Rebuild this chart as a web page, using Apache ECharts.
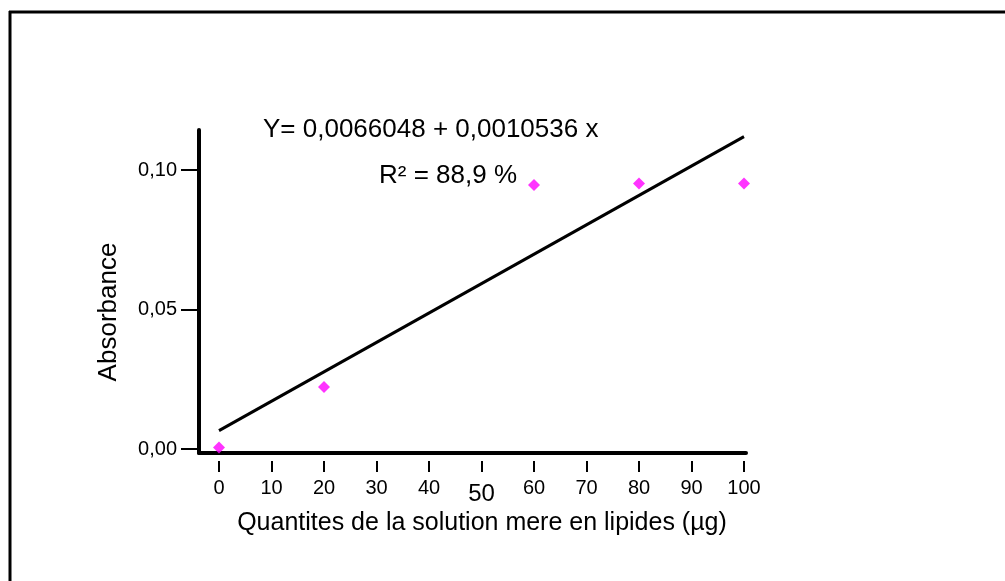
<!DOCTYPE html>
<html>
<head>
<meta charset="utf-8">
<title>Absorbance</title>
<script src="https://cdn.jsdelivr.net/npm/echarts@6/dist/echarts.min.js"></script>
<style>
  html, body { margin: 0; padding: 0; background: #ffffff; }
  #chart { width: 1005px; height: 581px; }
</style>
</head>
<body>
<div id="chart"></div>
<script>
// Measured points: quantity of stock solution (µg) vs absorbance
const quantities = [0, 20, 60, 80, 100];
const absorbance = [0.0005, 0.0222, 0.0946, 0.0952, 0.0952];

// Least-squares fit reported on the chart
const intercept = 0.0066048;
const slope = 0.0010536;
const fitRange = [0, 100];

// Axis ticks
const xTicks = [0, 10, 20, 30, 40, 50, 60, 70, 80, 90, 100];
const yTicks = [0, 0.05, 0.10];

// Texts
const equationText = 'Y= 0,0066048 + 0,0010536 x';
const r2Text = 'R² = 88,9 %';
const xTitle = 'Quantites de la solution mere en lipides (µg)';
const yTitle = 'Absorbance';

const FONT = "'Liberation Sans', Arial, sans-serif";

const points = quantities.map((q, i) => [q, absorbance[i]]);
const fitLine = fitRange.map(x => [x, intercept + slope * x]);

const xMin = xTicks[0], xMax = xTicks[xTicks.length - 1];
const yMin = yTicks[0], yMax = yTicks[yTicks.length - 1];

const hiddenAxis = (gridIndex, extra) => Object.assign({
  gridIndex, type: 'value', show: false
}, extra || {});

const chart = echarts.init(document.getElementById('chart'), null, { renderer: 'canvas' });

chart.setOption({
  backgroundColor: '#ffffff',
  animation: false,
  textStyle: { fontFamily: FONT, color: '#000' },
  grid: [
    // 0: frame carrying the two heavy axis lines
    { left: 199, right: 259, top: 130, bottom: 128 },
    // 1: data area
    { left: 219, right: 261, top: 170, bottom: 132 },
    // 2: detached x ticks and labels below the axis line
    { left: 219, right: 261, top: 170, bottom: 120 },
    // 3: y ticks and labels on the axis line
    { left: 199, right: 261, top: 170, bottom: 132 }
  ],
  xAxis: [
    {
      gridIndex: 0, type: 'value', min: 0, max: 1,
      axisLine: { show: true, lineStyle: { color: '#000', width: 4 } },
      axisTick: { show: false }, axisLabel: { show: false }, splitLine: { show: false }
    },
    hiddenAxis(1, { min: xMin, max: xMax }),
    {
      gridIndex: 2, type: 'value', min: xMin, max: xMax, interval: 10,
      position: 'bottom',
      axisLine: { show: false },
      axisTick: { show: true, length: 11, lineStyle: { color: '#000', width: 2 } },
      axisLabel: {
        show: true, margin: 17, fontSize: 20, color: '#000', fontFamily: FONT,
        formatter: v => (v === 50 ? '{big|50}' : String(v)),
        rich: { big: { fontSize: 24, fontFamily: FONT, color: '#000', padding: [4, 0, 0, 0] } }
      },
      splitLine: { show: false }
    },
    hiddenAxis(3, { min: 0, max: 1 })
  ],
  yAxis: [
    {
      gridIndex: 0, type: 'value', min: 0, max: 1,
      axisLine: { show: true, lineStyle: { color: '#000', width: 4 } },
      axisTick: { show: false }, axisLabel: { show: false }, splitLine: { show: false }
    },
    hiddenAxis(1, { min: yMin, max: yMax }),
    hiddenAxis(2, { min: 0, max: 1 }),
    {
      gridIndex: 3, type: 'value', min: yMin, max: yMax, interval: 0.05,
      position: 'left',
      axisLine: { show: false },
      axisTick: { show: true, length: 18, lineStyle: { color: '#000', width: 2 } },
      axisLabel: {
        show: true, margin: 22, fontSize: 20, color: '#000', fontFamily: FONT,
        formatter: v => v.toFixed(2).replace('.', ',')
      },
      splitLine: { show: false }
    }
  ],
  series: [
    {
      type: 'line', xAxisIndex: 1, yAxisIndex: 1, clip: false,
      data: fitLine, symbol: 'none', silent: true,
      lineStyle: { color: '#000', width: 3 }, z: 2
    },
    {
      type: 'scatter', xAxisIndex: 1, yAxisIndex: 1, clip: false,
      data: points, symbol: 'diamond', symbolSize: [12, 12],
      itemStyle: { color: '#ff00ff' }, z: 3
    }
  ],
  graphic: [
    { type: 'line', shape: { x1: 9, y1: 12, x2: 1005, y2: 12 }, style: { stroke: '#000', lineWidth: 3 } },
    { type: 'line', shape: { x1: 10, y1: 11, x2: 10, y2: 581 }, style: { stroke: '#000', lineWidth: 3 } },
    {
      type: 'text', x: 263, y: 130,
      style: { text: equationText, fontSize: 26, fontFamily: FONT, fill: '#000', textVerticalAlign: 'middle' }
    },
    {
      type: 'text', x: 379, y: 176,
      style: { text: r2Text, fontSize: 26, fontFamily: FONT, fill: '#000', textVerticalAlign: 'middle' }
    },
    {
      type: 'text', x: 482, y: 523,
      style: { text: xTitle, fontSize: 25, fontFamily: FONT, fill: '#000', textAlign: 'center', textVerticalAlign: 'middle' }
    },
    {
      type: 'text', x: 109, y: 312, rotation: Math.PI / 2,
      style: { text: yTitle, fontSize: 26, fontFamily: FONT, fill: '#000', textAlign: 'center', textVerticalAlign: 'middle' }
    }
  ]
});
</script>
</body>
</html>
